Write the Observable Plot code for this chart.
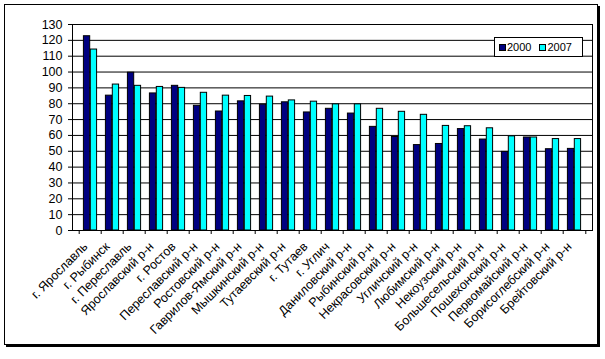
<!DOCTYPE html>
<html>
<head>
<meta charset="utf-8">
<script src="https://cdn.jsdelivr.net/npm/d3@7"></script>
<script src="https://cdn.jsdelivr.net/npm/@observablehq/plot@0.6"></script>
<style>
  html, body { margin: 0; padding: 0; background: #fff; }
  #wrap { position: relative; width: 605px; height: 359px; font-family: Arial, "Liberation Sans", sans-serif; }
  #border { position: absolute; left: 4px; top: 4px; width: 592px; height: 339px; border: 1px solid #000; box-shadow: 2px 2px 0 #000; }
  #chart { position: absolute; left: 0; top: 0; }
  #legend { position: absolute; left: 494px; top: 37px; width: 83px; height: 18px; border: 1px solid #000; background: #fff;
            font-size: 11px; display: flex; align-items: center; padding-left: 4px; box-sizing: content-box; }
  #legend .item { display: flex; align-items: center; margin-right: 8px; }
  #legend .sw { width: 5px; height: 5px; border: 1px solid #000; margin-right: 1px; }
</style>
</head>
<body>
<div id="wrap">
  <div id="border"></div>
  <div id="chart"></div>
  <div id="legend"></div>
</div>
<script>
const categories = ["г. Ярославль", "г. Рыбинск", "г. Переславль", "Ярославский р-н", "г. Ростов", "Переславский р-н", "Ростовский р-н", "Гаврилов-Ямский р-н", "Мышкинский р-н", "Тутаевский р-н", "г. Тутаев", "г. Углич", "Даниловский р-н", "Рыбинский р-н", "Некрасовский р-н", "Угличский р-н", "Любимский р-н", "Некоузский р-н", "Большесельский р-н", "Пошехонский р-н", "Первомайский р-н", "Борисоглебский р-н", "Брейтовский р-н"];
const values2000 = [122.6, 85.1, 99.6, 86.5, 91.3, 78.7, 75.1, 81.5, 79.4, 80.9, 74.5, 76.8, 73.8, 65.4, 59.0, 53.9, 54.6, 64.0, 57.4, 49.6, 58.7, 51.3, 51.5];
const values2007 = [114.2, 92.1, 91.3, 90.6, 90.0, 86.9, 85.1, 84.9, 84.5, 82.1, 81.3, 79.6, 79.6, 76.8, 74.9, 73.0, 66.0, 65.8, 64.5, 59.4, 58.7, 57.7, 57.7];
const seriesNames = ["2000", "2007"];
const seriesColors = ["#000080", "#00FFFF"];
const yTicks = d3.range(0, 131, 10);

const data = categories.map((c, i) => ({cat: c, v2000: values2000[i], v2007: values2007[i]}));

const W = 605, H = 359, mL = 72, mR = 13, mT = 24, mB = 129;
const bw = (W - mL - mR) / categories.length;
const barW = bw * 0.305;
const gap = (bw - 2 * barW) / 2;

const chart = Plot.plot({
  width: W, height: H,
  marginLeft: mL, marginRight: mR, marginTop: mT, marginBottom: mB,
  style: {fontFamily: "Arial, 'Liberation Sans', sans-serif", fontSize: "12px", background: "transparent", color: "#000"},
  x: {type: "band", domain: categories, padding: 0, label: null},
  y: {domain: [0, 130], label: null},
  marks: [
    Plot.ruleY(yTicks, {stroke: "#000", strokeWidth: 1}),
    Plot.barY(data, {x: "cat", y: "v2000", fill: seriesColors[0], stroke: "#000", strokeWidth: 1,
      insetLeft: gap, insetRight: gap + barW}),
    Plot.barY(data, {x: "cat", y: "v2007", fill: seriesColors[1], stroke: "#000", strokeWidth: 1,
      insetLeft: gap + barW, insetRight: gap}),
    Plot.frame({stroke: "#000", strokeWidth: 1}),
    Plot.axisY({ticks: yTicks, tickSize: 4, tickPadding: 6, fontSize: 12.5, label: null}),
    Plot.axisX({tickSize: 4, text: null, dx: -bw / 2, label: null}),
    Plot.axisX({ticks: [categories[categories.length - 1]], tickSize: 4, text: null, dx: bw / 2, label: null}),
    Plot.axisX({tickSize: 0, tickRotate: -45, tickPadding: 14, dx: -5, fontSize: 12.5, label: null})
  ]
});
document.getElementById("chart").appendChild(chart);

const legend = document.getElementById("legend");
seriesNames.forEach((n, i) => {
  const item = document.createElement("div");
  item.className = "item";
  const sw = document.createElement("div");
  sw.className = "sw";
  sw.style.background = seriesColors[i];
  const t = document.createElement("span");
  t.textContent = n;
  item.appendChild(sw); item.appendChild(t);
  legend.appendChild(item);
});
</script>
</body>
</html>
